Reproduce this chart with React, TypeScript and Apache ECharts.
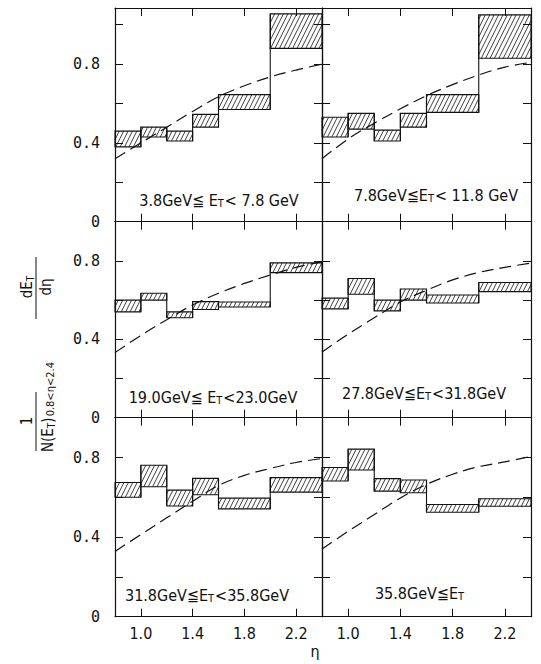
import React, { useEffect, useRef } from "react";
import * as echarts from "echarts";

// ---- data ----
const etaLow = [0.8, 1.0, 1.2, 1.4, 1.6, 2.0];
const etaHigh = [1.0, 1.2, 1.4, 1.6, 2.0, 2.4];
const curveEta = [0.8, 1.0, 1.2, 1.4, 1.6, 1.8, 2.0, 2.2, 2.4];
const xTickValues = [1.0, 1.4, 1.8, 2.2];
const yTickValues = [0, 0.2, 0.4, 0.6, 0.8, 1.0];
const yLabelValues = [0, 0.4, 0.8];

// 3.8 GeV <= ET < 7.8 GeV
const p1Low = [0.38, 0.43, 0.41, 0.48, 0.57, 0.88];
const p1High = [0.46, 0.48, 0.46, 0.545, 0.645, 1.055];
const p1Curve = [0.32, 0.4, 0.48, 0.56, 0.635, 0.69, 0.735, 0.77, 0.8];
// 7.8 GeV <= ET < 11.8 GeV
const p2Low = [0.43, 0.47, 0.41, 0.48, 0.555, 0.83];
const p2High = [0.53, 0.55, 0.465, 0.55, 0.645, 1.05];
const p2Curve = [0.32, 0.42, 0.5, 0.573, 0.64, 0.696, 0.745, 0.785, 0.809];
// 19.0 GeV <= ET < 23.0 GeV
const p3Low = [0.54, 0.6, 0.51, 0.552, 0.565, 0.74];
const p3High = [0.6, 0.635, 0.54, 0.592, 0.59, 0.79];
const p3Curve = [0.332, 0.42, 0.5, 0.575, 0.635, 0.685, 0.728, 0.767, 0.795];
// 27.8 GeV <= ET < 31.8 GeV
const p4Low = [0.555, 0.63, 0.545, 0.6, 0.585, 0.643];
const p4High = [0.61, 0.71, 0.6, 0.657, 0.626, 0.69];
const p4Curve = [0.335, 0.426, 0.51, 0.59, 0.65, 0.703, 0.741, 0.767, 0.789];
// 31.8 GeV <= ET < 35.8 GeV
const p5Low = [0.6, 0.653, 0.556, 0.613, 0.542, 0.626];
const p5High = [0.674, 0.761, 0.636, 0.695, 0.596, 0.699];
const p5Curve = [0.328, 0.413, 0.497, 0.58, 0.66, 0.71, 0.745, 0.775, 0.795];
// 35.8 GeV <= ET
const p6Low = [0.682, 0.737, 0.631, 0.623, 0.525, 0.555];
const p6High = [0.75, 0.842, 0.694, 0.687, 0.564, 0.593];
const p6Curve = [0.34, 0.429, 0.513, 0.597, 0.665, 0.716, 0.754, 0.778, 0.805];

const p1Label = ["3.8GeV≦ E", "T", "< 7.8 GeV"];
const p2Label = ["7.8GeV≦E", "T", "< 11.8 GeV"];
const p3Label = ["19.0GeV≦ E", "T", "<23.0GeV"];
const p4Label = ["27.8GeV≦E", "T", "<31.8GeV"];
const p5Label = ["31.8GeV≦E", "T", "<35.8GeV"];
const p6Label = ["35.8GeV≦E", "T", ""];

const yTitleTop = ["dE", "T"];
const yTitleBottom = "dη";
const yTitle2Top = "1";
const yTitle2Bottom = ["N(E", "T", ")", "0.8<η<2.4"];
const xTitle = "η";

// ---- layout ----
const FONT =
  "'Liberation Sans Narrow', 'DejaVu Sans Condensed', 'Roboto Condensed', Roboto, 'Liberation Sans', sans-serif";
const colLeft = [115, 322];
const colWidth = [207, 209];
const rowTop = [8, 221.7, 417.7];
const rowHeight = [213.7, 196, 199];
const rowMax = [1.085, 1, 1];
const labelPos = [
  [219, 200],
  [436, 195],
  [213, 397],
  [424, 393],
  [207, 595],
  [420, 593],
];

const panels = [
  { low: p1Low, high: p1High, curve: p1Curve, label: p1Label },
  { low: p2Low, high: p2High, curve: p2Curve, label: p2Label },
  { low: p3Low, high: p3High, curve: p3Curve, label: p3Label },
  { low: p4Low, high: p4High, curve: p4Curve, label: p4Label },
  { low: p5Low, high: p5High, curve: p5Curve, label: p5Label },
  { low: p6Low, high: p6High, curve: p6Curve, label: p6Label },
];

const INK = "#111";

function hatchLines(xa: number, ya: number, xb: number, yb: number) {
  const k = 2.0;
  const dx = 4.4;
  const step = k * dx;
  const cMin = k * xa + ya;
  const cMax = k * xb + yb;
  const out: any[] = [];
  for (let n = Math.ceil(cMin / step); n * step <= cMax; n++) {
    const c = n * step;
    const xs = Math.max(xa, (c - yb) / k);
    const xe = Math.min(xb, (c - ya) / k);
    if (xe - xs > 0.2) {
      out.push({
        type: "line",
        shape: { x1: xs, y1: c - k * xs, x2: xe, y2: c - k * xe },
        style: { stroke: INK, lineWidth: 0.8 },
      });
    }
  }
  return out;
}

function buildOption() {
  const grid: any[] = [];
  const xAxis: any[] = [];
  const yAxis: any[] = [];
  const series: any[] = [];
  const graphic: any[] = [];
  const axisLineStyle = { color: INK, width: 1.2 };
  const tickStyle = { color: INK, width: 1 };

  panels.forEach((p, i) => {
    const row = Math.floor(i / 2);
    const col = i % 2;
    grid.push({
      left: colLeft[col],
      top: rowTop[row],
      width: colWidth[col],
      height: rowHeight[row],
    });
    const baseX = {
      gridIndex: i,
      type: "value",
      min: 0.8,
      max: 2.4,
      splitLine: { show: false },
      axisLine: { show: true, onZero: false, lineStyle: axisLineStyle },
      axisTick: {
        show: true,
        inside: true,
        length: 8,
        customValues: xTickValues,
        lineStyle: tickStyle,
      },
    };
    xAxis.push({
      ...baseX,
      position: "bottom",
      axisLabel: {
        show: row === 2,
        customValues: xTickValues,
        formatter: (v: number) => v.toFixed(1),
        fontFamily: FONT,
        fontSize: 16,
        color: INK,
        margin: 9,
      },
    });
    xAxis.push({ ...baseX, position: "top", axisLabel: { show: false } });
    const baseY = {
      gridIndex: i,
      type: "value",
      min: 0,
      max: rowMax[row],
      splitLine: { show: false },
      axisLine: { show: true, onZero: false, lineStyle: axisLineStyle },
      axisTick: {
        show: true,
        inside: true,
        length: 8,
        customValues: yTickValues,
        lineStyle: tickStyle,
      },
    };
    yAxis.push({
      ...baseY,
      position: "left",
      axisLabel: {
        show: col === 0,
        customValues: yLabelValues,
        formatter: (v: number) => (v === 0 ? "0" : v.toFixed(1)),
        fontFamily: "'DejaVu Sans Mono', monospace",
        fontSize: 15,
        color: INK,
        margin: 15,
      },
    });
    yAxis.push({ ...baseY, position: "right", axisLabel: { show: false } });

    const low = p.low;
    const high = p.high;
    series.push({
      type: "custom",
      xAxisIndex: 2 * i,
      yAxisIndex: 2 * i,
      silent: true,
      clip: false,
      encode: { x: [0, 1], y: [2, 3] },
      data: etaLow.map((e, j) => [e, etaHigh[j], low[j], high[j]]),
      renderItem: (params: any, api: any) => {
        const j = params.dataIndex;
        const x0 = api.value(0);
        const x1 = api.value(1);
        const lo = api.value(2);
        const hi = api.value(3);
        const a = api.coord([x0, hi]);
        const b = api.coord([x1, lo]);
        const children: any[] = hatchLines(a[0], a[1], b[0], b[1]);
        children.push({
          type: "rect",
          shape: { x: a[0], y: a[1], width: b[0] - a[0], height: b[1] - a[1] },
          style: { fill: "none", stroke: INK, lineWidth: 1.1 },
        });
        if (j < etaLow.length - 1) {
          const top = api.coord([x1, Math.max(hi, high[j + 1])]);
          const bot = api.coord([x1, Math.min(lo, low[j + 1])]);
          children.push({
            type: "line",
            shape: { x1: top[0], y1: top[1], x2: bot[0], y2: bot[1] },
            style: { stroke: INK, lineWidth: 1.1 },
          });
        }
        return { type: "group", children };
      },
    });
    series.push({
      type: "line",
      xAxisIndex: 2 * i,
      yAxisIndex: 2 * i,
      silent: true,
      smooth: 0.35,
      showSymbol: false,
      symbol: "none",
      data: curveEta.map((e, k) => [e, p.curve[k]]),
      lineStyle: { color: INK, width: 1.2, type: [12, 6] },
    });

    const [lx, ly] = labelPos[i];
    const parts = p.label;
    graphic.push({
      type: "text",
      x: lx,
      y: ly,
      silent: true,
      style: {
        text:
          `{a|${parts[0]}}{t|${parts[1]}}` + (parts[2] ? `{a|${parts[2]}}` : ""),
        align: "center",
        verticalAlign: "middle",
        fill: INK,
        rich: {
          a: { fontFamily: FONT, fontSize: 16, lineHeight: 18, fill: INK },
          t: {
            fontFamily: FONT,
            fontSize: 11,
            lineHeight: 11,
            padding: [10, 1, 0, 0],
            verticalAlign: "bottom",
            fill: INK,
          },
        },
      },
    });
  });

  // y-axis titles (rotated fractions)
  const rot = Math.PI / 2;
  graphic.push(
    {
      type: "text",
      x: 27,
      y: 287,
      rotation: rot,
      silent: true,
      style: {
        text: `{a|${yTitleTop[0]}}{t|${yTitleTop[1]}}`,
        align: "center",
        verticalAlign: "middle",
        rich: {
          a: { fontFamily: FONT, fontSize: 15, lineHeight: 16, fill: INK },
          t: {
            fontFamily: FONT,
            fontSize: 10,
            lineHeight: 10,
            padding: [8, 0, 0, 0],
            verticalAlign: "bottom",
            fill: INK,
          },
        },
      },
    },
    {
      type: "line",
      silent: true,
      shape: { x1: 36, y1: 257, x2: 36, y2: 319 },
      style: { stroke: INK, lineWidth: 1 },
    },
    {
      type: "text",
      x: 46,
      y: 287,
      rotation: rot,
      silent: true,
      style: {
        text: yTitleBottom,
        align: "center",
        verticalAlign: "middle",
        fontFamily: FONT,
        fontSize: 15,
        fill: INK,
      },
    },
    {
      type: "text",
      x: 27,
      y: 421,
      rotation: rot,
      silent: true,
      style: {
        text: yTitle2Top,
        align: "center",
        verticalAlign: "middle",
        fontFamily: FONT,
        fontSize: 15,
        fill: INK,
      },
    },
    {
      type: "line",
      silent: true,
      shape: { x1: 36, y1: 392, x2: 36, y2: 451 },
      style: { stroke: INK, lineWidth: 1 },
    },
    {
      type: "text",
      x: 48,
      y: 452,
      rotation: rot,
      silent: true,
      style: {
        text: `{a|${yTitle2Bottom[0]}}{t|${yTitle2Bottom[1]}}{a|${yTitle2Bottom[2]}}{s|${yTitle2Bottom[3]}}`,
        align: "left",
        verticalAlign: "middle",
        rich: {
          a: { fontFamily: FONT, fontSize: 15, lineHeight: 16, fill: INK },
          t: {
            fontFamily: FONT,
            fontSize: 10,
            lineHeight: 10,
            padding: [8, 0, 0, 0],
            verticalAlign: "bottom",
            fill: INK,
          },
          s: {
            fontFamily: FONT,
            fontSize: 11,
            lineHeight: 11,
            padding: [12, 0, 0, 1],
            verticalAlign: "bottom",
            fill: INK,
          },
        },
      },
    },
    {
      type: "text",
      x: 315,
      y: 651,
      silent: true,
      style: {
        text: xTitle,
        align: "center",
        verticalAlign: "middle",
        fontFamily: FONT,
        fontSize: 16,
        fill: INK,
      },
    }
  );

  return {
    animation: false,
    backgroundColor: "#fff",
    grid,
    xAxis,
    yAxis,
    series,
    graphic,
  };
}

export default function App() {
  const ref = useRef<HTMLDivElement>(null);
  useEffect(() => {
    if (!ref.current) return;
    const chart = echarts.init(ref.current, undefined, { renderer: "svg" });
    chart.setOption(buildOption() as any);
    return () => chart.dispose();
  }, []);
  return (
    <div
      ref={ref}
      style={{ position: "absolute", left: 0, top: 0, width: 541, height: 664 }}
    />
  );
}
